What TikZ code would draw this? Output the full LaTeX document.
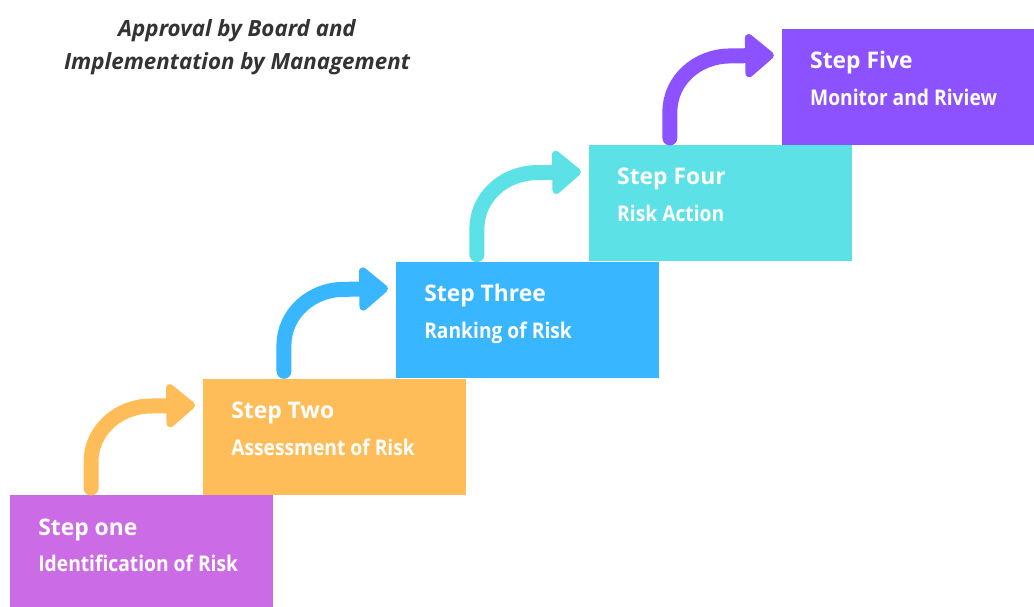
\documentclass[tikz,border=0pt]{standalone}
\usepackage{fontspec}
\setmainfont{Open Sans}
\newfontfamily\narrowsans[FakeStretch=0.89]{Open Sans}
\usepackage{tikz}
\usetikzlibrary{arrows.meta,calc}

\definecolor{stepone}{HTML}{CB6CE6}
\definecolor{steptwo}{HTML}{FFBD59}
\definecolor{stepthree}{HTML}{38B6FF}
\definecolor{stepfour}{HTML}{5CE1E6}
\definecolor{stepfive}{HTML}{8C52FF}

\begin{document}
\begin{tikzpicture}[x=0.02cm, y=-0.02cm,
    stepbox/.style={rectangle, inner sep=0pt, minimum width=5.26cm, minimum height=2.32cm},
    stephead/.style={anchor=base west, inner sep=0pt, text=white, font=\fontsize{13}{16}\selectfont\bfseries},
    stepsub/.style={anchor=base west, inner sep=0pt, text=white, font=\narrowsans\fontsize{12.3}{15}\selectfont\bfseries},
    climb/.style={line width=0.3cm, line cap=round, -{Triangle[length=0.62cm, width=1cm, round]}}
]
  \clip (0,0) rectangle (1034,606);
  % the five steps, each one up and to the right of the last
  \node[stepbox, fill=stepone, anchor=north west] (s1) at (10,495) {};
  \node[stepbox, fill=steptwo, anchor=south west] (s2) at ([xshift=3.86cm]s1.north west) {};
  \node[stepbox, fill=stepthree, anchor=south west] (s3) at ([xshift=3.86cm]s2.north west) {};
  \node[stepbox, fill=stepfour, anchor=south west] (s4) at ([xshift=3.86cm]s3.north west) {};
  \node[stepbox, fill=stepfive, anchor=south west] (s5) at ([xshift=3.86cm]s4.north west) {};

  \node[stephead] (h1) at ([xshift=0.56cm, yshift=-0.8cm]s1.north west) {Step one};
  \node[stepsub] (d1) at ([yshift=-0.74cm]h1.base west) {Identification of Risk};
  \node[stephead] (h2) at ([xshift=0.56cm, yshift=-0.8cm]s2.north west) {Step Two};
  \node[stepsub] (d2) at ([yshift=-0.74cm]h2.base west) {Assessment of Risk};
  \node[stephead] (h3) at ([xshift=0.56cm, yshift=-0.8cm]s3.north west) {Step Three};
  \node[stepsub] (d3) at ([yshift=-0.74cm]h3.base west) {Ranking of Risk};
  \node[stephead] (h4) at ([xshift=0.56cm, yshift=-0.8cm]s4.north west) {Step Four};
  \node[stepsub] (d4) at ([yshift=-0.74cm]h4.base west) {Risk Action};
  \node[stephead] (h5) at ([xshift=0.56cm, yshift=-0.8cm]s5.north west) {Step Five};
  \node[stepsub] (d5) at ([yshift=-0.74cm]h5.base west) {Monitor and Riview};

  % curved arrows climbing from one step to the next
  \draw[climb, steptwo] ($(s1.north west)+(81,-7)$) -- ++(0,-26)
      to[out=90, in=180] ++(60,-56) -- ($(s2.north west)+(-8,27)$);
  \draw[climb, stepthree] ($(s2.north west)+(81,-7)$) -- ++(0,-26)
      to[out=90, in=180] ++(60,-56) -- ($(s3.north west)+(-8,27)$);
  \draw[climb, stepfour] ($(s3.north west)+(81,-7)$) -- ++(0,-26)
      to[out=90, in=180] ++(60,-56) -- ($(s4.north west)+(-8,27)$);
  \draw[climb, stepfive] ($(s4.north west)+(81,-7)$) -- ++(0,-26)
      to[out=90, in=180] ++(60,-56) -- ($(s5.north west)+(-8,27)$);

  \node[align=center, text=black!80, font=\fontsize{12.7}{18.8}\selectfont\bfseries\itshape] (title)
      at (237,47) {Approval by Board and\\Implementation by Management};
\end{tikzpicture}
\end{document}
